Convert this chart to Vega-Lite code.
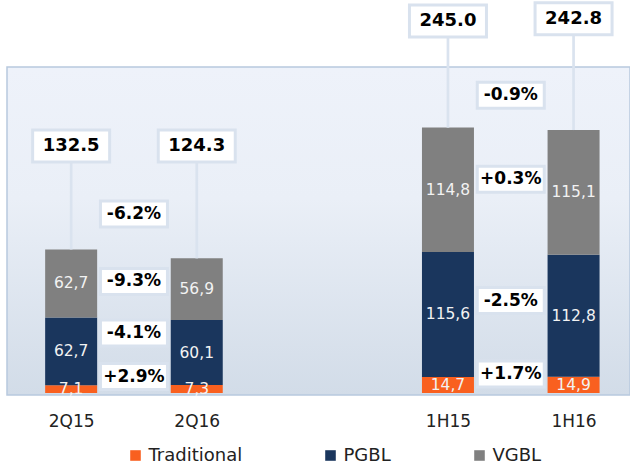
{
  "$schema": "https://vega.github.io/schema/vega-lite/v6.json",
  "width": 623,
  "height": 328,
  "autosize": {"type": "none"},
  "padding": {"left": 7, "top": 67, "right": 0, "bottom": 70},
  "background": "white",
  "view": {
    "fill": {"gradient": "linear", "x1": 0, "y1": 0, "x2": 0, "y2": 1,
      "stops": [{"offset": 0, "color": "#eef2fa"}, {"offset": 0.4, "color": "#eaeff7"}, {"offset": 1, "color": "#d2dce8"}]},
    "stroke": "#b8c9de",
    "strokeWidth": 1.5
  },
  "config": {"font": "DejaVu Sans"},
  "datasets": {
    "segments": [
      {"period": "2Q15", "series": "Traditional", "order": 1, "value": 7.1, "label": "7,1"},
      {"period": "2Q15", "series": "PGBL", "order": 2, "value": 62.7, "label": "62,7"},
      {"period": "2Q15", "series": "VGBL", "order": 3, "value": 62.7, "label": "62,7"},
      {"period": "2Q16", "series": "Traditional", "order": 1, "value": 7.3, "label": "7,3"},
      {"period": "2Q16", "series": "PGBL", "order": 2, "value": 60.1, "label": "60,1"},
      {"period": "2Q16", "series": "VGBL", "order": 3, "value": 56.9, "label": "56,9"},
      {"period": "1H15", "series": "Traditional", "order": 1, "value": 14.7, "label": "14,7"},
      {"period": "1H15", "series": "PGBL", "order": 2, "value": 115.6, "label": "115,6"},
      {"period": "1H15", "series": "VGBL", "order": 3, "value": 114.8, "label": "114,8"},
      {"period": "1H16", "series": "Traditional", "order": 1, "value": 14.9, "label": "14,9"},
      {"period": "1H16", "series": "PGBL", "order": 2, "value": 112.8, "label": "112,8"},
      {"period": "1H16", "series": "VGBL", "order": 3, "value": 115.1, "label": "115,1"}
    ],
    "totals": [
      {"period": "2Q15", "total": 132.5, "label_y": 228},
      {"period": "2Q16", "total": 124.3, "label_y": 228},
      {"period": "1H15", "total": 245.0, "label_y": 343.5},
      {"period": "1H16", "total": 242.8, "label_y": 345.5}
    ],
    "changes": [
      {"period": "2Q15-2Q16", "series": "Total", "change": "-6.2%", "label_y": 165.3},
      {"period": "2Q15-2Q16", "series": "VGBL", "change": "-9.3%", "label_y": 103},
      {"period": "2Q15-2Q16", "series": "PGBL", "change": "-4.1%", "label_y": 55.4},
      {"period": "2Q15-2Q16", "series": "Traditional", "change": "+2.9%", "label_y": 15.2},
      {"period": "1H15-1H16", "series": "Total", "change": "-0.9%", "label_y": 274.9},
      {"period": "1H15-1H16", "series": "VGBL", "change": "+0.3%", "label_y": 197.4},
      {"period": "1H15-1H16", "series": "PGBL", "change": "-2.5%", "label_y": 85.4},
      {"period": "1H15-1H16", "series": "Traditional", "change": "+1.7%", "label_y": 17.5}
    ]
  },
  "encoding": {
    "x": {
      "field": "period",
      "type": "ordinal",
      "title": null,
      "scale": {
        "type": "point",
        "domain": ["2Q15", "2Q15-2Q16", "2Q16", "gap1", "gap2", "gap3", "1H15", "1H15-1H16", "1H16"],
        "padding": 0.96,
        "align": 0.532
      },
      "axis": {
        "values": ["2Q15", "2Q16", "1H15", "1H16"],
        "domain": false,
        "ticks": false,
        "grid": false,
        "labelAngle": 0,
        "labelFont": "DejaVu Sans",
        "labelFontSize": 17,
        "labelColor": "#222222",
        "labelPadding": 18
      }
    }
  },
  "layer": [
    {
      "data": {"name": "segments"},
      "transform": [
        {"stack": "value", "groupby": ["period"], "sort": [{"field": "order", "order": "ascending"}], "as": ["v0", "v1"]}
      ],
      "mark": {"type": "bar", "width": 52},
      "encoding": {
        "y": {"field": "v0", "type": "quantitative", "scale": {"domain": [-1.85, 301], "nice": false, "zero": false}, "axis": null},
        "y2": {"field": "v1"},
        "color": {
          "field": "series",
          "type": "nominal",
          "scale": {"domain": ["Traditional", "PGBL", "VGBL"], "range": ["#f9601f", "#1a365d", "#808080"]},
          "legend": {
            "orient": "none",
            "legendX": 119.5,
            "legendY": 379.5,
            "direction": "horizontal",
            "title": null,
            "padding": 0,
            "symbolType": "square",
            "symbolSize": 112,
            "symbolStrokeWidth": 0,
            "labelFont": "DejaVu Sans",
            "labelFontSize": 18,
            "labelColor": "#222222",
            "labelOffset": 4,
            "columnPadding": 79
          }
        }
      }
    },
    {
      "data": {"name": "segments"},
      "transform": [
        {"stack": "value", "groupby": ["period"], "sort": [{"field": "order", "order": "ascending"}], "as": ["v0", "v1"]},
        {"fold": ["v0", "v1"], "as": ["edge", "edge_value"]},
        {"aggregate": [{"op": "mean", "field": "edge_value", "as": "mid"}], "groupby": ["period", "series", "label"]}
      ],
      "mark": {"type": "text", "font": "DejaVu Sans", "fontSize": 15.5, "color": "#f2f2f2", "baseline": "middle", "align": "center"},
      "encoding": {
        "y": {"field": "mid", "type": "quantitative"},
        "text": {"field": "label", "type": "nominal"}
      }
    },
    {
      "data": {"name": "totals"},
      "mark": {"type": "rule", "color": "#dae3ef", "strokeWidth": 2.7},
      "encoding": {
        "y": {"field": "label_y", "type": "quantitative"},
        "y2": {"field": "total"}
      }
    },
    {
      "data": {"name": "totals"},
      "mark": {"type": "point", "shape": "M-1,-0.4156H1V0.4156H-1Z", "size": 5929, "fill": "white", "stroke": "#d9e2ee", "strokeWidth": 3, "opacity": 1, "fillOpacity": 1, "filled": false},
      "encoding": {
        "y": {"field": "label_y", "type": "quantitative"}
      }
    },
    {
      "data": {"name": "totals"},
      "mark": {"type": "text", "font": "DejaVu Sans", "fontWeight": "bold", "fontSize": 18, "color": "#000000", "baseline": "middle", "align": "center"},
      "encoding": {
        "y": {"field": "label_y", "type": "quantitative"},
        "text": {"field": "total", "type": "quantitative", "format": ".1f"}
      }
    },
    {
      "data": {"name": "changes"},
      "mark": {"type": "point", "shape": "M-1,-0.388H1V0.388H-1Z", "size": 4489, "fill": "white", "stroke": "#d9e2ee", "strokeWidth": 3, "opacity": 1, "fillOpacity": 1, "filled": false},
      "encoding": {
        "y": {"field": "label_y", "type": "quantitative"}
      }
    },
    {
      "data": {"name": "changes"},
      "mark": {"type": "text", "font": "DejaVu Sans", "fontWeight": "bold", "fontSize": 17, "color": "#000000", "baseline": "middle", "align": "center"},
      "encoding": {
        "y": {"field": "label_y", "type": "quantitative"},
        "text": {"field": "change", "type": "nominal"}
      }
    }
  ]
}
